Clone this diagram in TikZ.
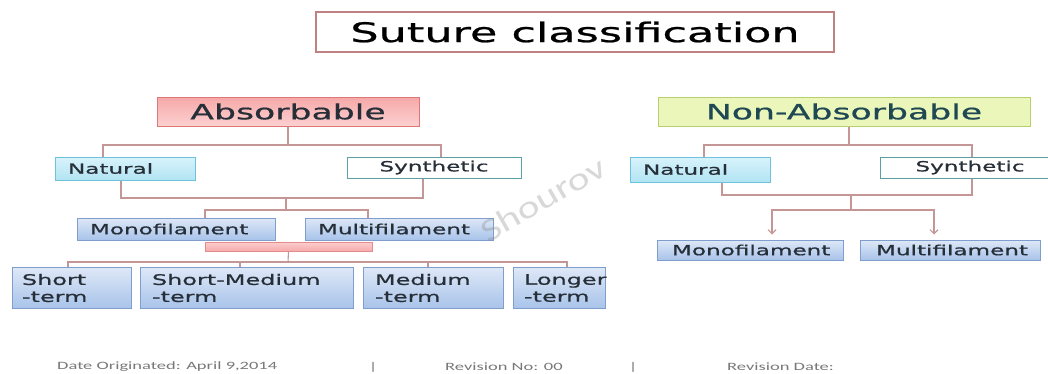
\documentclass[tikz,border=0pt]{standalone}
\usepackage{fontspec}
\setmainfont{DejaVu Sans}[FakeStretch=1.65,FakeBold=0.8]
\newfontfamily\footfont{Carlito}[FakeStretch=1.65]
\newfontfamily\wmfont{Carlito}[FakeStretch=1.3]
\usetikzlibrary{arrows.meta}
\definecolor{conn}{RGB}{196,150,150}
\definecolor{titleborder}{RGB}{190,130,130}
\definecolor{abstop}{RGB}{246,168,168}
\definecolor{absbot}{RGB}{252,208,208}
\definecolor{absborder}{RGB}{222,120,120}
\definecolor{nafill}{RGB}{234,246,186}
\definecolor{naborder}{RGB}{182,208,112}
\definecolor{natext}{RGB}{32,72,84}
\definecolor{nattop}{RGB}{216,243,251}
\definecolor{natbot}{RGB}{178,228,243}
\definecolor{natborder}{RGB}{110,195,220}
\definecolor{synborder}{RGB}{90,160,165}
\definecolor{bluetop}{RGB}{222,232,247}
\definecolor{bluebot}{RGB}{168,195,234}
\definecolor{blueborder}{RGB}{128,158,205}
\definecolor{darktext}{RGB}{38,46,56}
\definecolor{bartop}{RGB}{252,206,206}
\definecolor{barbot}{RGB}{246,170,170}
\definecolor{barborder}{RGB}{228,140,140}
\definecolor{foottext}{RGB}{120,120,120}
\begin{document}
\begin{tikzpicture}[x=1pt,y=-1pt,
  conn/.style={draw=conn, line width=1.1pt},
  arr/.style={conn, -{Straight Barb[length=4pt,width=8pt]}, shorten >=5pt},
  natbox/.style={draw=natborder, line width=1pt, top color=nattop, bottom color=natbot, text=darktext, inner ysep=0pt, align=left, font=\fontsize{14}{17}\selectfont},
  synbox/.style={draw=synborder, line width=1pt, fill=white, text=darktext, inner ysep=0pt, font=\fontsize{14}{17}\selectfont},
  bluebox/.style={draw=blueborder, line width=1pt, top color=bluetop, bottom color=bluebot, text=darktext, inner ysep=0pt, align=left, font=\fontsize{14}{17}\selectfont},
  termbox/.style={bluebox, font=\fontsize{14.5}{17}\selectfont},
  foot/.style={text=foottext, inner sep=0pt, font=\footfont\fontsize{11.2}{13}\selectfont}
]
\useasboundingbox (0,0) rectangle (1048,373);
\fill[white] (0,0) rectangle (1048,373);

% title
\node[draw=titleborder, line width=1.3pt, fill=white, minimum width=518pt, minimum height=40pt, inner sep=0pt,
  font=\fontsize{27}{30}\selectfont, text=black] (title) at (575,32) {Suture classification};

% headers
\node[draw=absborder, line width=1pt, top color=abstop, bottom color=absbot, minimum width=262pt, minimum height=29pt, inner sep=0pt,
  font=\fontsize{21}{24}\selectfont, text=darktext] (abs) at (288,111.5) {Absorbable};
\node[draw=naborder, line width=1pt, fill=nafill, minimum width=372pt, minimum height=29pt, inner sep=0pt,
  font=\fontsize{21}{24}\selectfont, text=natext] (nonabs) at (844,111.5) {Non-Absorbable};

% left branch
\node[natbox, text width=114pt, inner xsep=13pt, minimum height=23pt] (natL) at (125,168.5) {Natural};
\node[synbox, minimum width=174pt, minimum height=21pt, inner xsep=0pt] (synL) at (434,167.5) {Synthetic};
\node[bluebox, text width=172pt, inner xsep=13pt, minimum height=22pt] (monoL) at (176,229) {Monofilament};
\node[bluebox, text width=162pt, inner xsep=13pt, minimum height=22pt] (multiL) at (399,229) {Multifilament};
\node[draw=barborder, line width=0.8pt, top color=bartop, bottom color=barbot, minimum width=167pt, minimum height=9pt, inner sep=0pt] (bar) at (288.5,246.5) {};

\node[termbox, text width=99pt, inner xsep=10pt, minimum height=41pt] (short) at (71.5,288) {Short\\-term};
\node[termbox, text width=189pt, inner xsep=12pt, minimum height=41pt] (shortmed) at (246.5,288) {Short-Medium\\-term};
\node[termbox, text width=116pt, inner xsep=12pt, minimum height=41pt] (medium) at (433,288) {Medium\\-term};
\node[termbox, text width=70pt, inner xsep=11pt, minimum height=41pt] (longer) at (559,288) {Longer\\-term};

% right branch
\node[natbox, text width=114pt, inner xsep=13pt, minimum height=25pt] (natR) at (700,169.5) {Natural};
\node[synbox, minimum width=180pt, minimum height=21pt, inner xsep=0pt] (synR) at (970,167.5) {Synthetic};
\node[bluebox, text width=156pt, inner xsep=15pt, minimum height=20pt] (monoR) at (750,250) {Monofilament};
\node[bluebox, text width=148pt, inner xsep=16pt, minimum height=20pt] (multiR) at (950,250) {Multifilament};

% left connectors
\coordinate (j1) at (288,145);
\coordinate (j2) at (286,198);
\coordinate (j3) at (286,210);
\coordinate (j4) at (288,262);
\draw[conn] (abs.south) -- (j1);
\draw[conn] ([xshift=-22pt]natL.north) |- (j1) -| ([xshift=7pt]synL.north);
\draw[conn] ([xshift=-4pt]natL.south) |- (j2) -| ([xshift=-11pt]synL.south);
\draw[conn] (j2) -- (j3);
\draw[conn] ([xshift=29pt]monoL.north) |- (j3) -| ([xshift=-31pt]multiL.north);
\draw[conn] (bar.south) -- (j4);
\draw[conn] ([xshift=-3.5pt]short.north) |- (j4) -| ([xshift=8pt]longer.north);
\draw[conn] ([xshift=-6.5pt]shortmed.north) |- (j4);
\draw[conn] ([xshift=-5pt]medium.north) |- (j4);

% right connectors
\coordinate (k1) at (849,145);
\coordinate (k2) at (851,195);
\coordinate (k3) at (851,210);
\draw[conn] ([xshift=5pt]nonabs.south) -- (k1);
\draw[conn] ([xshift=4pt]natR.north) |- (k1) -| ([xshift=2pt]synR.north);
\draw[conn] ([xshift=22pt]natR.south) |- (k2) -| ([xshift=2pt]synR.south);
\draw[conn] (k2) -- (k3);
\draw[arr] (k3) -| ([xshift=22pt]monoR.north);
\draw[arr] (k3) -| ([xshift=-16pt]multiR.north);

% footer
\node[foot, anchor=west] (f1) at (57,367) {Date Originated: April 9,2014};
\node[foot] (f2) at (373,367) {|};
\node[foot, anchor=west] (f3) at (445,367) {Revision No: 00};
\node[foot] (f4) at (633,367) {|};
\node[foot, anchor=west] (f5) at (727,367) {Revision Date:};

% watermark
\node[rotate=30, text=gray, opacity=0.3, inner sep=0pt, font=\wmfont\fontsize{32}{32}\selectfont] (wm) at (543,199) {Shourov};
\end{tikzpicture}
\end{document}
